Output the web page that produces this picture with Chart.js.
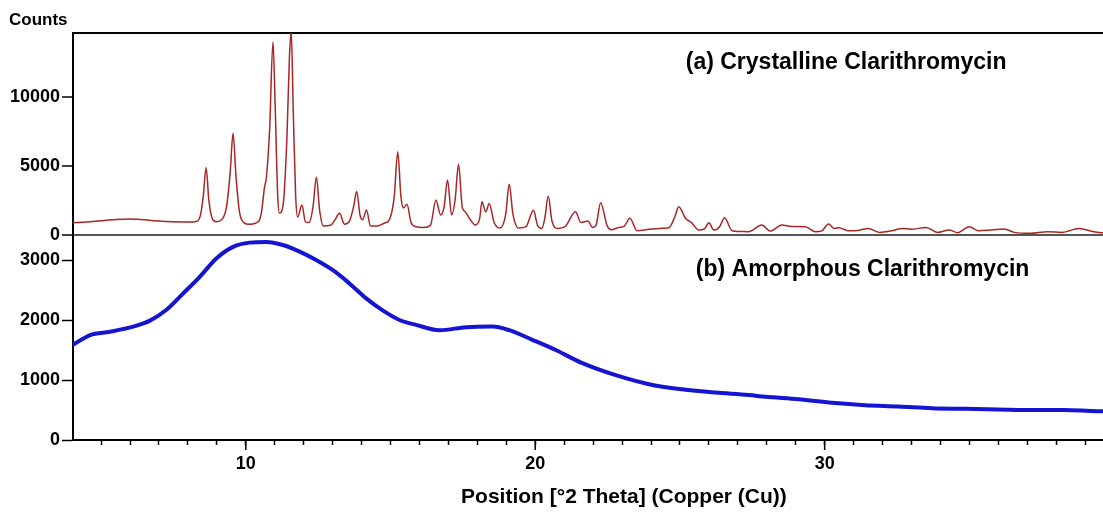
<!DOCTYPE html>
<html>
<head>
<meta charset="utf-8">
<script src="https://cdn.jsdelivr.net/npm/chart.js@4.4.1/dist/chart.umd.min.js"></script>
<style>
  html, body { margin: 0; padding: 0; background: #fff; overflow: hidden; }
  #wrap { position: relative; width: 1180px; height: 515px; }
</style>
</head>
<body>
<div id="wrap"><canvas id="c" width="1180" height="515"></canvas></div>
<script>
// ---- Data ----
const crystX = [4.0,4.5,5.0,5.5,6.0,6.5,7.0,7.5,8.0,8.28,8.43,8.53,8.63,8.72,8.84,8.98,9.13,9.33,9.46,9.56,9.66,9.78,9.93,10.13,10.33,10.53,10.65,10.71,10.82,10.94,11.02,11.1,11.16,11.29,11.42,11.51,11.57,11.64,11.72,11.79,11.94,12.06,12.19,12.32,12.44,12.55,12.68,12.93,13.08,13.24,13.41,13.58,13.72,13.83,13.95,14.04,14.17,14.31,14.53,14.78,14.98,15.13,15.25,15.36,15.45,15.57,15.71,15.88,16.13,16.38,16.57,16.73,16.85,16.97,17.11,17.23,17.35,17.48,17.58,17.73,17.93,18.08,18.16,18.29,18.41,18.58,18.78,18.98,19.1,19.23,19.43,19.68,19.94,20.08,20.23,20.33,20.45,20.58,20.78,21.03,21.39,21.58,21.82,21.98,22.1,22.26,22.48,22.63,22.88,23.08,23.27,23.52,23.93,24.3,24.62,24.82,24.96,25.19,25.4,25.65,25.85,26.0,26.17,26.37,26.54,26.8,27.05,27.37,27.83,28.12,28.52,28.85,29.33,29.67,29.9,30.13,30.33,30.5,30.8,31.2,31.5,31.9,32.3,32.7,33.0,33.5,33.9,34.3,34.6,35.0,35.3,35.75,36.2,36.55,37.1,37.7,38.2,38.78,39.3,39.6,40.2];
const crystY = [890,950,1040,1120,1160,1100,1010,960,940,980,1400,2800,4880,2600,1200,960,1050,2000,4500,7370,4300,1700,900,775,850,1500,3500,4150,7500,14000,9000,3000,1590,2200,7000,13000,14800,9000,3000,1300,2170,950,900,2000,4180,1800,650,700,1100,1570,780,1000,2000,3150,1400,1100,1810,650,650,850,1200,2800,6040,2800,1960,2220,900,600,550,700,2540,1450,2000,3990,1450,2500,5120,2000,1690,1200,720,1200,2410,1670,2290,900,500,1500,3670,1500,500,600,1800,700,480,1200,2800,1000,480,600,1690,900,1010,550,700,2340,700,380,550,650,1210,310,410,480,530,1300,2050,1210,900,360,450,890,360,600,1250,310,260,240,720,290,720,620,600,240,300,800,480,530,310,350,480,190,300,480,410,550,190,360,170,600,310,360,430,190,120,240,190,480,240,170,200];

const amorX = [4.02,4.62,5.31,6.11,6.69,7.26,7.83,8.41,8.99,9.56,10.13,10.71,11.28,11.86,12.43,13.01,13.58,14.16,14.73,15.31,15.88,16.69,17.61,18.52,19.1,19.9,20.71,21.63,22.78,23.93,25.07,26.23,27.38,27.95,29.1,30.25,31.4,32.55,33.7,34.85,36.0,37.14,38.29,39.44,40.2];
const amorY = [1583,1750,1805,1890,1990,2170,2440,2720,3030,3220,3290,3300,3250,3140,3000,2830,2610,2360,2160,2000,1920,1830,1880,1890,1830,1670,1500,1280,1080,930,845,790,750,720,680,620,580,560,530,520,510,500,500,480,480];

const xMajorTicks = [10, 20, 30, 40];
const topTicks = [0, 5000, 10000];
const botTicks = [0, 1000, 2000, 3000];
const xRange = [4.03, 42.1];
const topRange = [0, 14640];
const botRange = [0, 3417];

const labelA = "(a) Crystalline Clarithromycin";
const labelB = "(b) Amorphous Clarithromycin";
const yTitle = "Counts";
const xTitle = "Position [°2 Theta] (Copper (Cu))";

// ---- Chart ----
const FONT = "'Liberation Sans', Arial, Helvetica, sans-serif";
Chart.defaults.font.family = FONT;
Chart.defaults.color = '#000';

const extras = {
  id: 'extras',
  afterDraw(chart) {
    const ctx = chart.ctx;
    const xs = chart.scales.x, yt = chart.scales.yTop, yb = chart.scales.yBot;
    ctx.save();
    ctx.strokeStyle = '#000';
    ctx.lineWidth = 1.5;
    xMajorTicks.forEach(v => {
      const px = xs.getPixelForValue(v);
      ctx.beginPath();
      ctx.moveTo(px, chart.chartArea.bottom);
      ctx.lineTo(px, chart.chartArea.bottom + 10);
      ctx.stroke();
    });
    ctx.fillStyle = '#000';
    ctx.textBaseline = 'middle';
    ctx.textAlign = 'left';
    ctx.font = 'bold 17px ' + FONT;
    ctx.fillText(yTitle, 9, 20);
    ctx.font = 'bold 23px ' + FONT;
    ctx.fillText(labelA, xs.getPixelForValue(25.2), yt.getPixelForValue(12460));
    ctx.fillText(labelB, xs.getPixelForValue(25.55), yb.getPixelForValue(2833));
    ctx.restore();
  }
};

const setTicks = list => (s => { s.ticks = list.map(v => ({value: v})); });

new Chart(document.getElementById('c'), {
  type: 'line',
  data: {
    datasets: [
      {
        label: 'Crystalline',
        data: crystX.map((x, i) => ({x: x, y: crystY[i]})),
        xAxisID: 'x', yAxisID: 'yTop',
        borderColor: '#a82626',
        borderWidth: 1.5,
        pointRadius: 0,
        cubicInterpolationMode: 'monotone',
        fill: false
      },
      {
        label: 'Amorphous',
        data: amorX.map((x, i) => ({x: x, y: amorY[i]})),
        xAxisID: 'x', yAxisID: 'yBot',
        borderColor: '#1414d2',
        borderWidth: 4,
        pointRadius: 0,
        cubicInterpolationMode: 'monotone',
        fill: false
      }
    ]
  },
  options: {
    responsive: false,
    animation: false,
    events: [],
    layout: { padding: { top: 33, right: 3, left: 0, bottom: 0 } },
    plugins: { legend: { display: false }, tooltip: { enabled: false }, title: { display: false } },
    scales: {
      x: {
        type: 'linear',
        position: 'bottom',
        min: xRange[0], max: xRange[1],
        afterFit(s) { s.height = 75; },
        border: { color: '#000', width: 2 },
        grid: { display: true, drawOnChartArea: false, tickLength: 5, tickColor: '#000', tickWidth: 1.5 },
        ticks: {
          stepSize: 1, includeBounds: false, autoSkip: false, maxRotation: 0,
          padding: 8,
          font: { size: 18, weight: 'bold' },
          color: '#000',
          callback: v => (xMajorTicks.includes(v) ? String(v) : '')
        },
        title: {
          display: true, text: xTitle,
          font: { size: 21, weight: 'bold' }, color: '#000',
          padding: { top: 0, bottom: 5 }
        }
      },
      x2: {
        type: 'linear',
        position: 'top',
        min: xRange[0], max: xRange[1],
        afterFit(s) { s.height = 0; },
        border: { color: '#000', width: 2 },
        grid: { display: false },
        ticks: { display: false }
      },
      yBot: {
        type: 'linear',
        position: 'left',
        stack: 'panels',
        stackWeight: 205,
        weight: 0,
        min: botRange[0], max: botRange[1],
        afterBuildTicks: setTicks(botTicks),
        afterFit(s) { s.width = 73; },
        border: { color: '#000', width: 2 },
        grid: { display: true, drawOnChartArea: false, tickLength: 11, tickColor: '#000', tickWidth: 1.5 },
        ticks: { padding: 2, font: { size: 18, weight: 'bold' }, color: '#000', callback: v => String(v) }
      },
      yTop: {
        type: 'linear',
        position: 'left',
        stack: 'panels',
        stackWeight: 202,
        weight: 1,
        min: topRange[0], max: topRange[1],
        afterBuildTicks: setTicks(topTicks),
        afterFit(s) { s.width = 73; },
        border: { color: '#000', width: 2 },
        grid: {
          display: true, drawOnChartArea: true,
          color: c => (c.tick && c.tick.value === 0 ? '#555' : 'rgba(0,0,0,0)'),
          lineWidth: c => (c.tick && c.tick.value === 0 ? 2 : 0),
          tickLength: 11, tickColor: '#000', tickWidth: 1.5
        },
        ticks: { padding: 2, font: { size: 18, weight: 'bold' }, color: '#000', callback: v => String(v) }
      }
    }
  },
  plugins: [extras]
});
</script>
</body>
</html>
